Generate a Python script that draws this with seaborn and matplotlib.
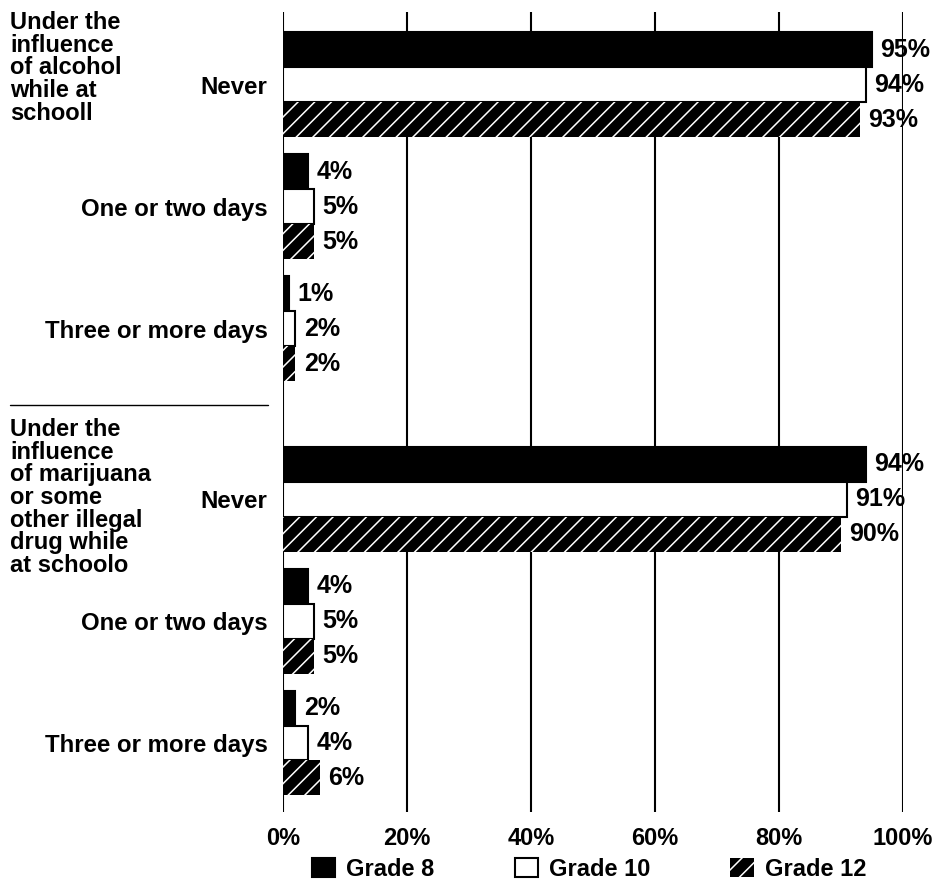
import matplotlib
matplotlib.use('Agg')
import matplotlib.pyplot as plt
from matplotlib.lines import Line2D
import seaborn as sns
import pandas as pd

sns.set_style('white')
plt.rcParams['font.family'] = ['Liberation Sans', 'DejaVu Sans']
plt.rcParams['font.weight'] = 'bold'
plt.rcParams['text.color'] = 'black'
plt.rcParams['xtick.color'] = 'black'
plt.rcParams['ytick.color'] = 'black'
plt.rcParams['hatch.linewidth'] = 1.1

# 데이터
categories = ["Never", "One or two days", "Three or more days"]
grades = ["Grade 8", "Grade 10", "Grade 12"]
alcohol_g8 = [95, 4, 1]
alcohol_g10 = [94, 5, 2]
alcohol_g12 = [93, 5, 2]
drug_g8 = [94, 4, 2]
drug_g10 = [91, 5, 4]
drug_g12 = [90, 5, 6]
group_titles = ["Under the\ninfluence\nof alcohol\nwhile at\nschooll",
                "Under the\ninfluence\nof marijuana\nor some\nother illegal\ndrug while\nat schoolo"]
x_ticks = [0, 20, 40, 60, 80, 100]

# 행 위치 (두 그룹 사이 간격을 넓게)
row_pos = [0, 1, 2, 3.4, 4.4, 5.4]

rows = []
values = {"Grade 8": alcohol_g8 + drug_g8,
          "Grade 10": alcohol_g10 + drug_g10,
          "Grade 12": alcohol_g12 + drug_g12}
for g in grades:
    for p, v in zip(row_pos, values[g]):
        rows.append({"pos": p, "pct": v, "grade": g})
df = pd.DataFrame(rows)

W, H = 934, 889
fig = plt.figure(figsize=(W / 100, H / 100), dpi=100)
ax = fig.add_axes([283 / W, 1 - 812 / H, (903 - 283) / W, (812 - 12) / H])

sns.barplot(data=df, x="pct", y="pos", hue="grade", hue_order=grades,
            orient="y", native_scale=True, width=0.86, dodge=True,
            palette=["black", "white", "black"], saturation=1,
            edgecolor="black", linewidth=1.5, legend=False, ax=ax)

# Grade 12: 검정 바탕 + 흰 빗금
for patch in ax.containers[2]:
    patch.set_hatch('//')
    patch.set_edgecolor('white')
    patch.set_linewidth(0)

for cont in ax.containers:
    ax.bar_label(cont, labels=[f"{v:.0f}%" for v in cont.datavalues],
                 padding=6, fontsize=18, fontweight='bold')

ax.set_xlim(0, 100)
ax.set_ylim(5.966, -0.598)
ax.set_xticks(x_ticks)
ax.set_xticklabels([f"{t}%" for t in x_ticks], fontsize=17, fontweight='bold')
ax.set_yticks(row_pos)
ax.set_yticklabels(categories * 2, fontsize=17.3, fontweight='bold')
ax.tick_params(axis='both', length=0)
ax.tick_params(axis='y', pad=11)
ax.tick_params(axis='x', pad=11)
ax.set_xlabel('')
ax.set_ylabel('')
ax.grid(axis='x', color='black', linewidth=1.5)
ax.grid(axis='y', visible=False)
ax.set_axisbelow(True)
for s in ax.spines.values():
    s.set_visible(False)

# 그룹 제목
fig.text(10 / W, 1 - 11 / H, group_titles[0], ha='left', va='top',
         fontsize=17, fontweight='bold', linespacing=0.98)
fig.text(10 / W, 1 - 418 / H, group_titles[1], ha='left', va='top',
         fontsize=17, fontweight='bold', linespacing=0.98)
fig.add_artist(Line2D([10 / W, 268 / W], [1 - 405 / H] * 2,
                      transform=fig.transFigure, color='black', linewidth=1))

# 범례
fig.legend(ax.containers, grades, loc='center', bbox_to_anchor=(589 / W, 1 - 869 / H),
           ncol=3, frameon=False, prop={'weight': 'bold', 'size': 17},
           handlelength=1.0, handleheight=0.9, handletextpad=0.45, columnspacing=3.4)

plt.savefig('out.png', dpi=100)
